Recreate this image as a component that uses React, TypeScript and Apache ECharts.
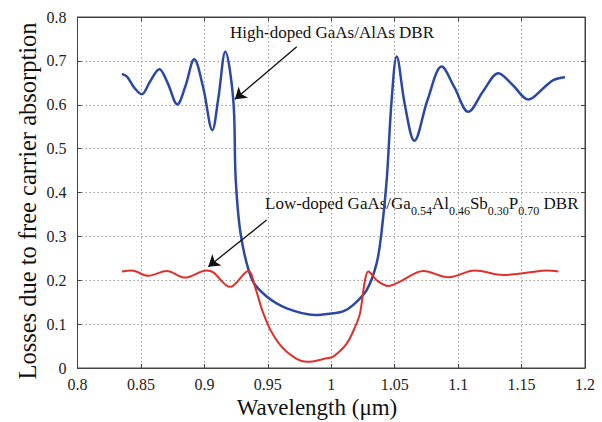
import React, { useEffect, useRef } from "react";
import * as echarts from "echarts";

// High-doped GaAs/AlAs DBR (blue)
const highDoped: [number, number][] = [
  [0.835, 0.670], [0.839, 0.664], [0.845, 0.638], [0.8506, 0.624], [0.857, 0.652],
  [0.8645, 0.681], [0.871, 0.650], [0.8787, 0.601], [0.885, 0.642], [0.892, 0.7035],
  [0.899, 0.640], [0.9063, 0.542], [0.911, 0.615], [0.9165, 0.721], [0.9228, 0.611],
  [0.9247, 0.43], [0.9289, 0.30], [0.9378, 0.20], [0.9491, 0.163], [0.965, 0.136],
  [0.9872, 0.121], [1.0016, 0.125], [1.0093, 0.129], [1.0174, 0.144], [1.028, 0.178],
  [1.0358, 0.239], [1.0398, 0.314], [1.0437, 0.428], [1.0476, 0.611], [1.0516, 0.710],
  [1.058, 0.600], [1.0655, 0.518], [1.076, 0.612], [1.087, 0.687], [1.097, 0.640],
  [1.108, 0.584], [1.120, 0.632], [1.1317, 0.672], [1.143, 0.645], [1.1553, 0.612],
  [1.168, 0.640], [1.175, 0.656], [1.1842, 0.6625],
];

// Low-doped GaAs/Ga0.54Al0.46Sb0.30P0.70 DBR (red)
const lowDoped: [number, number][] = [
  [0.835, 0.220], [0.8427, 0.222], [0.8558, 0.210], [0.8703, 0.221], [0.8847, 0.206],
  [0.9018, 0.222], [0.907, 0.218], [0.9202, 0.185], [0.9346, 0.221], [0.9399, 0.185],
  [0.9464, 0.125], [0.9543, 0.075], [0.9649, 0.037], [0.9806, 0.014], [0.9964, 0.022],
  [1.0016, 0.026], [1.012, 0.055], [1.019, 0.095], [1.0227, 0.125], [1.0266, 0.200],
  [1.0292, 0.220], [1.0358, 0.200], [1.045, 0.187], [1.0542, 0.197], [1.0726, 0.221],
  [1.0923, 0.207], [1.1133, 0.222], [1.1356, 0.212], [1.1567, 0.218], [1.1698, 0.222],
  [1.179, 0.220],
];

// Annotation arrows (data coordinates: tail -> head)
const highArrow: [number, number][] = [[0.9728, 0.7323], [0.9241, 0.6124]];
const lowArrow: [number, number][] = [[0.9491, 0.3373], [0.9031, 0.2309]];

const xMin = 0.8, xMax = 1.2, xStep = 0.05;
const yMin = 0, yMax = 0.8, yStep = 0.1;

const FONT = "'Liberation Serif', 'Times New Roman', serif";

export default function App() {
  const ref = useRef<HTMLDivElement>(null);
  useEffect(() => {
    if (!ref.current) return;
    const chart = echarts.init(ref.current, undefined, { renderer: "svg" });
    const axisLine = { show: true, onZero: false, lineStyle: { color: "#444", width: 1 } };
    const tick = { show: true, inside: true, length: 4, lineStyle: { color: "#444" } };
    const grid = { type: [1.5, 2.5] as any, color: "#9a9a9a", width: 1 };
    chart.setOption({
      animation: false,
      backgroundColor: "#fff",
      textStyle: { fontFamily: FONT },
      grid: { left: 77.5, right: 17, top: 17, bottom: 54, containLabel: false, show: true, borderColor: "#444", borderWidth: 1, backgroundColor: "transparent" },
      xAxis: [
        {
          type: "value", min: xMin, max: xMax, interval: xStep,
          axisLine, axisTick: tick,
          axisLabel: { color: "#222", fontFamily: FONT, fontSize: 16, margin: 8 },
          splitLine: { show: true, lineStyle: grid },
        },
        {
          type: "value", min: xMin, max: xMax, interval: xStep, position: "top",
          axisLine, axisTick: tick,
          axisLabel: { show: false }, splitLine: { show: false },
        },
      ],
      yAxis: [
        {
          type: "value", min: yMin, max: yMax, interval: yStep,
          axisLine, axisTick: tick,
          axisLabel: { color: "#222", fontFamily: FONT, fontSize: 16, margin: 11 },
          splitLine: { show: true, lineStyle: grid },
        },
        {
          type: "value", min: yMin, max: yMax, interval: yStep, position: "right",
          axisLine, axisTick: tick,
          axisLabel: { show: false }, splitLine: { show: false },
        },
      ],
      series: [
        {
          type: "line", name: "High-doped GaAs/AlAs DBR", data: highDoped,
          showSymbol: false, smooth: 0.35, lineStyle: { color: "#2b48a8", width: 2.5 },
          silent: true,
          markLine: {
            silent: true, symbol: ["none", "arrow"], symbolSize: 11,
            label: { show: false }, lineStyle: { color: "#111", width: 1.3, type: "solid" },
            itemStyle: { color: "#111" },
            emphasis: { disabled: true },
            data: [
              [{ coord: highArrow[0] }, { coord: highArrow[1] }],
              [{ coord: lowArrow[0] }, { coord: lowArrow[1] }],
            ],
          },
        },
        {
          type: "line", name: "Low-doped DBR", data: lowDoped,
          showSymbol: false, smooth: 0.35, lineStyle: { color: "#e0302c", width: 2 },
          silent: true,
        },
      ],
      graphic: [
        {
          type: "text", left: 230, top: 24,
          style: { text: "High-doped GaAs/AlAs DBR", fontFamily: FONT, fontSize: 17, fill: "#111" },
        },
        {
          type: "text", x: 265, y: 203,
          style: {
            text: "{m|Low-doped GaAs/Ga}{s|0.54}{m|Al}{s|0.46}{m|Sb}{s|0.30}{m|P}{s|0.70}{m| DBR}",
            fontFamily: FONT, fill: "#111", verticalAlign: "middle", align: "left",
            rich: {
              m: { fontFamily: FONT, fontSize: 17, lineHeight: 27, verticalAlign: "middle", fill: "#111" },
              s: { fontFamily: FONT, fontSize: 12, lineHeight: 12, verticalAlign: "bottom", fill: "#111" },
            },
          },
        },
        {
          type: "text", x: 317, y: 407,
          style: { text: "Wavelength (μm)", fontFamily: FONT, fontSize: 23, fill: "#111", align: "center", verticalAlign: "middle" },
        },
        {
          type: "text", x: 27, y: 201, rotation: Math.PI / 2,
          style: { text: "Losses due to free carrier absorption", fontFamily: FONT, fontSize: 24.5, fill: "#111", align: "center", verticalAlign: "middle" },
        },
      ],
    });
    return () => chart.dispose();
  }, []);
  return <div ref={ref} style={{ width: 602, height: 422, position: "absolute", left: 0, top: 0 }} />;
}
